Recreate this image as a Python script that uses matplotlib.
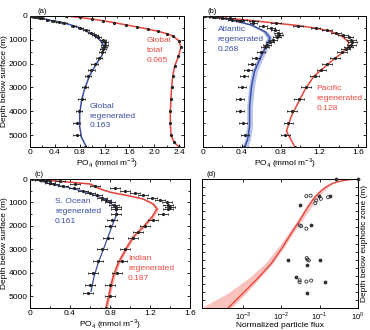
import numpy as np
import matplotlib
matplotlib.use("Agg")
import matplotlib.pyplot as plt
from matplotlib.ticker import MultipleLocator, NullFormatter, FixedLocator

plt.rcParams['font.family'] = ['Liberation Sans', 'DejaVu Sans']
plt.rcParams['mathtext.fontset'] = 'custom'
plt.rcParams['mathtext.rm'] = 'Liberation Sans'

RED = '#e8453c'
BLUE = '#3a4ea6'
TXT_RED = '#ee4a40'
TXT_BLUE = '#3a4ea6'

# ---------------- Panel (a) ----------------
tot_depth = [0, 60, 130, 200, 280, 370, 460, 550, 640, 740, 850, 1050, 1300, 1700, 2100, 2500, 3000, 3500, 4000, 4500, 5000, 5300, 5500]
tot_po4 = [0.58, 0.80, 1.00, 1.18, 1.36, 1.54, 1.72, 1.90, 2.06, 2.20, 2.31, 2.40, 2.43, 2.39, 2.33, 2.30, 2.28, 2.27, 2.26, 2.26, 2.27, 2.32, 2.40]

glob_reg_depth = [0, 40, 100, 170, 310, 520, 870, 1100, 1300, 1650, 2000, 2500, 3050, 3550, 4100, 4650, 5100, 5500]
glob_reg_po4 = [0.0, 0.10, 0.20, 0.31, 0.58, 0.83, 1.07, 1.16, 1.19, 1.16, 1.07, 0.96, 0.88, 0.83, 0.80, 0.80, 0.83, 0.91]

glob_obs_depth = [0, 25, 50, 75, 100, 150, 200, 250, 300, 400, 500, 600, 700, 800, 900, 1000, 1100, 1200, 1300, 1400, 1500, 1750, 2000, 2250, 2500, 3000, 3500, 4000, 4500, 5000, 5500]
glob_obs_po4 = [0.02, 0.06, 0.12, 0.16, 0.20, 0.28, 0.37, 0.46, 0.55, 0.70, 0.81, 0.90, 0.98, 1.05, 1.10, 1.17, 1.20, 1.20, 1.19, 1.18, 1.16, 1.11, 1.04, 0.99, 0.93, 0.88, 0.83, 0.79, 0.75, 0.75, 0.89]
glob_obs_err = [0.02, 0.02, 0.03, 0.03, 0.03, 0.03, 0.03, 0.04, 0.04, 0.04, 0.04, 0.05, 0.05, 0.05, 0.05, 0.05, 0.05, 0.05, 0.05, 0.05, 0.05, 0.05, 0.05, 0.05, 0.05, 0.05, 0.05, 0.05, 0.05, 0.05, 0.05]

# ---------------- Panel (b) ----------------
atl_depth = [0, 60, 170, 380, 660, 930, 1280, 1770, 2330, 2960, 3800, 4630, 5190, 5500]
atl_po4 = [0.0, 0.12, 0.30, 0.50, 0.64, 0.69, 0.65, 0.59, 0.53, 0.50, 0.48, 0.48, 0.46, 0.43]
atl_band = [0.01, 0.01, 0.02, 0.02, 0.03, 0.03, 0.03, 0.03, 0.03, 0.03, 0.03, 0.03, 0.03, 0.03]

atl_obs_depth = [0, 50, 100, 150, 200, 300, 400, 500, 600, 700, 800, 900, 1000, 1100, 1200, 1300, 1500, 1750, 2000, 2250, 2500, 3000, 3500, 4000, 4500, 5000, 5500]
atl_obs_po4 = [0.02, 0.10, 0.20, 0.30, 0.38, 0.52, 0.62, 0.70, 0.74, 0.77, 0.78, 0.76, 0.72, 0.69, 0.66, 0.64, 0.60, 0.55, 0.50, 0.46, 0.42, 0.40, 0.38, 0.38, 0.41, 0.43, 0.42]

pac_depth = [0, 60, 170, 300, 400, 520, 650, 870, 1100, 1300, 1560, 1840, 2190, 2540, 3100, 3650, 4210, 4840, 5450]
pac_po4 = [0.0, 0.15, 0.45, 0.75, 0.98, 1.18, 1.32, 1.44, 1.50, 1.50, 1.43, 1.34, 1.24, 1.14, 1.05, 0.98, 0.91, 0.86, 0.94]

pac_obs_depth = [0, 50, 100, 150, 200, 300, 400, 500, 600, 700, 800, 900, 1000, 1100, 1200, 1300, 1400, 1500, 1750, 2000, 2250, 2500, 3000, 3500, 4000, 4500, 5000, 5500]
pac_obs_po4 = [0.02, 0.12, 0.28, 0.40, 0.52, 0.75, 0.98, 1.16, 1.28, 1.37, 1.44, 1.50, 1.53, 1.54, 1.53, 1.50, 1.47, 1.43, 1.36, 1.28, 1.22, 1.15, 1.06, 0.99, 0.92, 0.88, 0.85, 0.95]

# ---------------- Panel (c) ----------------
so_depth = [0, 40, 210, 350, 560, 780, 990, 1200, 1480, 1900, 2470, 3040, 3600, 4170, 4800]
so_po4 = [0.0, 0.08, 0.20, 0.37, 0.57, 0.70, 0.80, 0.85, 0.87, 0.83, 0.78, 0.73, 0.68, 0.64, 0.61]

so_obs_depth = [0, 50, 100, 150, 200, 300, 400, 500, 600, 700, 800, 900, 1000, 1100, 1200, 1300, 1500, 1750, 2000, 2500, 3000, 3500, 4000, 4500, 4850]
so_obs_po4 = [0.02, 0.10, 0.16, 0.20, 0.24, 0.33, 0.44, 0.53, 0.60, 0.67, 0.72, 0.76, 0.80, 0.84, 0.86, 0.86, 0.86, 0.82, 0.80, 0.78, 0.72, 0.68, 0.63, 0.60, 0.58]

ind_depth = [0, 100, 210, 420, 560, 700, 850, 1060, 1270, 1620, 2050, 2470, 3040, 3600, 4170, 4730, 5300, 5500]
ind_po4 = [0.05, 0.30, 0.60, 0.70, 0.80, 0.97, 1.13, 1.23, 1.27, 1.22, 1.13, 1.03, 0.95, 0.88, 0.83, 0.80, 0.77, 0.76]

ind_obs_depth = [0, 50, 100, 200, 300, 400, 500, 600, 700, 800, 900, 1000, 1100, 1200, 1300, 1500, 1750, 2000, 2250, 2500, 3000, 3500, 4000, 4500, 5000, 5500]
ind_obs_po4 = [0.05, 0.15, 0.30, 0.45, 0.65, 0.85, 0.95, 1.05, 1.13, 1.22, 1.30, 1.37, 1.38, 1.40, 1.38, 1.33, 1.23, 1.15, 1.08, 1.03, 0.95, 0.92, 0.87, 0.80, 0.80, 0.76]

# ---------------- Panel (d) ----------------
flux_depth = [0, 2, 5, 10, 15, 22, 31, 50, 72, 113, 174, 257, 338, 420, 523, 615, 708, 800]
flux_fit = [1.0, 0.75, 0.55, 0.40, 0.32, 0.25, 0.20, 0.145, 0.11, 0.074, 0.049, 0.030, 0.018, 0.011, 0.0055, 0.00245, 0.0010, 0.00041]
flux_low = [1.0, 0.74, 0.54, 0.39, 0.31, 0.24, 0.19, 0.135, 0.10, 0.066, 0.043, 0.026, 0.015, 0.0085, 0.0038, 0.0014, 0.0004, 0.00008]
flux_high = [1.0, 0.77, 0.57, 0.42, 0.34, 0.27, 0.22, 0.165, 0.13, 0.090, 0.060, 0.035, 0.020, 0.012, 0.0060, 0.0027, 0.0012, 0.0005]

circ_flux = [0.045, 0.058, 0.081, 0.107, 0.077, 0.166, 0.030, 0.033, 0.045, 0.048, 0.046, 0.052, 0.030, 0.030, 0.045, 0.060]
circ_depth = [106, 103, 133, 123, 150, 113, 288, 292, 308, 500, 490, 505, 628, 640, 636, 630]
dot_flux = [0.26, 0.19, 0.030, 0.058, 0.0148, 0.048, 0.10, 0.0245, 0.135, 0.048, 1.0, 0.098]
dot_depth = [0, 103, 164, 283, 503, 533, 500, 605, 636, 708, 0, 103]

xlabel_po4 = 'PO$_4$ (mmol m$^{-3}$)'

W, H = 370, 330
fig = plt.figure(figsize=(W / 100, H / 100), dpi=100)

def px_axes(l, r, t, b):
    return fig.add_axes([l / W, 1 - b / H, (r - l) / W, (b - t) / H])

axa = px_axes(30, 184, 16, 147)
axb = px_axes(203, 366, 16, 147)
axc = px_axes(30, 190, 179, 308)
axd = px_axes(202, 358, 179, 308)

FS = 6.0
TFS = 6.1
LS = 1.55
ebkw = dict(fmt='o', color='#222222', ms=1.3, elinewidth=0.6, capsize=1.0, capthick=0.6, zorder=3)

def fmt_po4(v, p):
    return '0' if abs(v) < 1e-9 else '%.1f' % v

def style_depth(ax, xmax, xmajor, labels_left=True):
    ax.set_ylim(5500, 0)
    ax.set_xlim(0, xmax)
    ax.yaxis.set_major_locator(MultipleLocator(1000))
    ax.yaxis.set_minor_locator(MultipleLocator(500))
    ax.xaxis.set_major_locator(MultipleLocator(xmajor))
    ax.xaxis.set_minor_locator(MultipleLocator(xmajor / 2))
    ax.tick_params(which='both', direction='in', top=True, right=True, labelsize=FS, width=0.6, pad=2)
    ax.tick_params(axis='x', pad=1.5)
    ax.tick_params(which='major', length=2.5)
    ax.tick_params(which='minor', length=1.5)
    ax.xaxis.set_major_formatter(plt.FuncFormatter(fmt_po4))
    if not labels_left:
        ax.set_yticklabels([])
    for s in ax.spines.values():
        s.set_linewidth(0.7)
    ax.set_xlabel(xlabel_po4, fontsize=FS, labelpad=0)

# (a)
style_depth(axa, 2.48, 0.4)
axa.plot(tot_po4, tot_depth, color=RED, lw=1.1, zorder=2)
axa.plot(tot_po4, tot_depth, 'o', color='#222222', ms=1.3, zorder=3)
axa.plot(glob_reg_po4, glob_reg_depth, color=BLUE, lw=1.1, zorder=2)
axa.errorbar(glob_obs_po4, glob_obs_depth, xerr=glob_obs_err, **ebkw)
axa.set_ylabel('Depth below surface (m)', fontsize=FS, labelpad=0.5)
axa.text(1.88, 900, 'Global\ntotal\n0.065', color=TXT_RED, fontsize=TFS, va='top', ha='left', linespacing=LS)
axa.text(0.96, 3650, 'Global\nregenerated\n0.163', color=TXT_BLUE, fontsize=TFS, va='top', ha='left', linespacing=LS)
axa.text(0.05, 1.01, '(a)', transform=axa.transAxes, fontsize=5.5, va='bottom', ha='left')

# (b)
style_depth(axb, 1.68, 0.4, labels_left=False)
axb.fill_betweenx(atl_depth, np.array(atl_po4) - np.array(atl_band), np.array(atl_po4) + np.array(atl_band),
                  color='#a9b7e6', alpha=0.8, lw=0, zorder=1)
axb.plot(atl_po4, atl_depth, color=BLUE, lw=1.1, zorder=2)
axb.plot(pac_po4, pac_depth, color=RED, lw=1.1, zorder=2)
axb.errorbar(atl_obs_po4, atl_obs_depth, xerr=0.04, **ebkw)
axb.errorbar(pac_obs_po4, pac_obs_depth, xerr=0.05, **ebkw)
axb.text(0.15, 430, 'Atlantic\nregenerated\n0.268', color=TXT_BLUE, fontsize=TFS, va='top', ha='left', linespacing=LS)
axb.text(1.17, 2900, 'Pacific\nregenerated\n0.128', color=TXT_RED, fontsize=TFS, va='top', ha='left', linespacing=LS)
axb.text(0.03, 1.01, '(b)', transform=axb.transAxes, fontsize=5.5, va='bottom', ha='left')

# (c)
style_depth(axc, 1.6, 0.4)
axc.fill_betweenx(ind_depth, np.array(ind_po4) - 0.015, np.array(ind_po4) + 0.015, color='#f6a9a4', lw=0, zorder=1)
axc.plot(ind_po4, ind_depth, color=RED, lw=1.1, zorder=2)
axc.plot(so_po4, so_depth, color=BLUE, lw=0.9, zorder=2)
axc.errorbar(so_obs_po4, so_obs_depth, xerr=0.05, **ebkw)
axc.errorbar(ind_obs_po4, ind_obs_depth, xerr=0.05, **ebkw)
axc.set_ylabel('Depth below surface (m)', fontsize=FS, labelpad=0.5)
axc.text(0.25, 820, 'S. Ocean\nregenerated\n0.161', color=TXT_BLUE, fontsize=TFS, va='top', ha='left', linespacing=LS)
axc.text(0.98, 3250, 'Indian\nregenerated\n0.187', color=TXT_RED, fontsize=TFS, va='top', ha='left', linespacing=LS)
axc.text(0.03, 1.01, '(c)', transform=axc.transAxes, fontsize=5.5, va='bottom', ha='left')

# (d)
axd.set_xscale('log')
axd.set_xlim(10 ** -4.07, 1.0)
axd.set_ylim(800, 0)
axd.fill_betweenx(flux_depth, flux_low, flux_high, color='#f7b3b0', alpha=0.8, lw=0, zorder=1)
axd.plot(flux_fit, flux_depth, color=RED, lw=1.0, zorder=2)
axd.scatter(circ_flux, circ_depth, s=5, facecolors='none', edgecolors='#333333', linewidths=0.6, zorder=3)
axd.scatter(dot_flux, dot_depth, s=3, color='#333333', marker='o', zorder=3, clip_on=False)
axd.xaxis.set_major_locator(FixedLocator([1e-3, 1e-2, 1e-1, 1e0]))
axd.xaxis.set_minor_locator(FixedLocator([]))
axd.set_xticklabels(['10$^{-3}$', '10$^{-2}$', '10$^{-1}$', '10$^{0}$'])
axd.yaxis.set_major_locator(MultipleLocator(50))
axd.yaxis.set_major_formatter(NullFormatter())
axd.tick_params(which='both', direction='in', top=True, right=True, labelsize=FS - 0.5, width=0.6, length=2.2, pad=1.5)
for s in axd.spines.values():
    s.set_linewidth(0.7)
axd.set_xlabel('Normalized particle flux', fontsize=FS, labelpad=0)
axd.yaxis.set_label_position('right')
axd.set_ylabel('Depth below euphotic zone (m)', fontsize=FS, labelpad=2)
axd.text(0.03, 1.01, '(d)', transform=axd.transAxes, fontsize=5.5, va='bottom', ha='left')

fig.savefig('out.png', dpi=100)
